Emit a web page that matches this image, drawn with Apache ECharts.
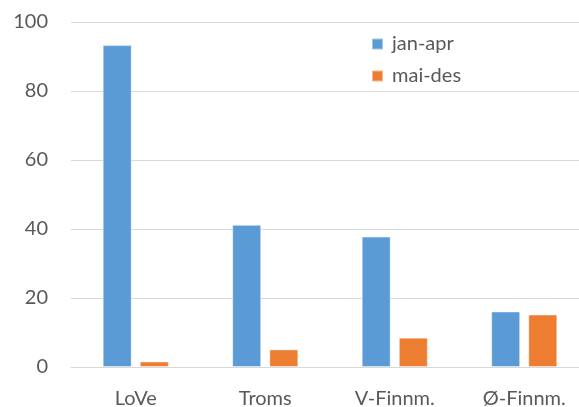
<!DOCTYPE html>
<html>
<head>
<meta charset="utf-8">
<script src="https://cdn.jsdelivr.net/npm/echarts@6/dist/echarts.min.js"></script>
<style>
  html, body { margin: 0; padding: 0; background: #fff; }
  #chart { width: 579px; height: 407px; }
</style>
</head>
<body>
<div id="chart"></div>
<script>
// data
const regions = ["LoVe", "Troms", "V-Finnm.", "Ø-Finnm."];
const janApr = [93.3, 41.2, 37.8, 16.1];
const maiDes = [1.6, 5.1, 8.5, 15.2];
const seriesNames = ["jan-apr", "mai-des"];

const chart = echarts.init(document.getElementById("chart"));

const textColor = "#595959";
const fontFamily = "Lato, 'Open Sans', sans-serif";

chart.setOption({
  animation: false,
  textStyle: { fontFamily: fontFamily },
  legend: {
    orient: "vertical",
    left: 371,
    top: 34,
    padding: 0,
    itemWidth: 11,
    itemHeight: 11,
    itemGap: 12,
    icon: "rect",
    data: seriesNames,
    textStyle: { fontSize: 20, color: textColor, lineHeight: 20, padding: [0, 0, 0, 4] }
  },
  grid: {
    left: 71,
    width: 518,
    top: 22,
    bottom: 40,
    outerBoundsMode: "none",
    containLabel: false
  },
  xAxis: {
    type: "category",
    data: regions,
    axisLine: { lineStyle: { color: "#d9d9d9", width: 1 } },
    axisTick: { show: false },
    axisLabel: { fontSize: 20, color: textColor, margin: 22 }
  },
  yAxis: {
    type: "value",
    min: 0,
    max: 100,
    interval: 20,
    axisLine: { show: false },
    axisTick: { show: false },
    splitLine: { lineStyle: { color: "#d9d9d9", width: 1 } },
    axisLabel: { fontSize: 20, color: textColor, margin: 23 }
  },
  series: [
    {
      name: seriesNames[0],
      type: "bar",
      data: janApr,
      barWidth: 29,
      barGap: "28%",
      itemStyle: { color: "#5B9BD5", borderColor: "rgba(255,255,255,0.45)", borderWidth: 1 }
    },
    {
      name: seriesNames[1],
      type: "bar",
      data: maiDes,
      barWidth: 29,
      barGap: "28%",
      itemStyle: { color: "#ED7D31", borderColor: "rgba(255,255,255,0.45)", borderWidth: 1 }
    }
  ]
});

window.addEventListener("resize", () => chart.resize());
</script>
</body>
</html>
